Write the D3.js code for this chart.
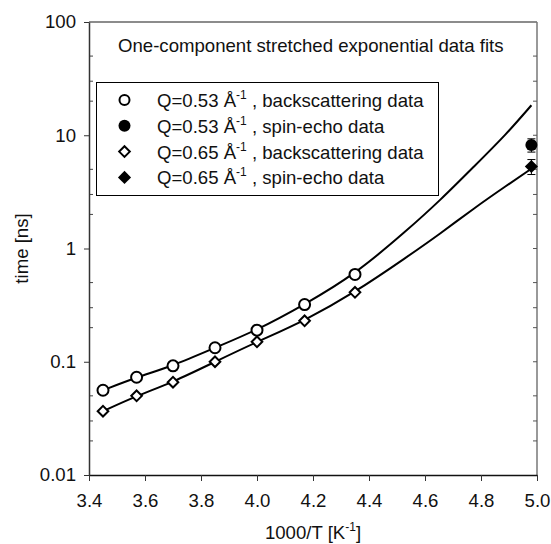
<!doctype html>
<html lang="en">
<head>
<meta charset="utf-8">
<script src="https://d3js.org/d3.v7.min.js"></script>
<style>
  body { margin: 0; background: #fff; }
  text { font-family: "Liberation Sans", Arial, sans-serif; fill: #111; }
</style>
</head>
<body>
<div id="chart"></div>
<script>
// backscattering data (open symbols)
var xBack = [3.45, 3.57, 3.70, 3.85, 4.00, 4.17, 4.35];
var tauQ53 = [0.056, 0.073, 0.092, 0.133, 0.19, 0.32, 0.59];
var tauQ65 = [0.0366, 0.050, 0.066, 0.100, 0.15, 0.23, 0.41];

// spin-echo data (filled symbols)
var xEcho = [4.98];
var echoQ53 = [8.2], echoQ53err = [1.1];
var echoQ65 = [5.3], echoQ65err = [0.8];

// fit curves
var xFit = [3.45, 3.57, 3.70, 3.85, 4.00, 4.17, 4.35, 4.535, 4.654, 4.773, 4.892, 4.98];
var fitQ53 = [0.056, 0.073, 0.092, 0.133, 0.19, 0.32, 0.59, 1.44, 2.66, 5.24, 10.3, 18.4];
var fitQ65 = [0.0366, 0.050, 0.066, 0.100, 0.15, 0.23, 0.41, 0.84, 1.35, 2.25, 3.6, 5.07];

var xTicks = [3.4, 3.6, 3.8, 4.0, 4.2, 4.4, 4.6, 4.8, 5.0];
var yTicks = [0.01, 0.1, 1, 10, 100];
var yTickLabels = ["0.01", "0.1", "1", "10", "100"];
var legendLabels = ["Q=0.53 Å", "Q=0.53 Å", "Q=0.65 Å", "Q=0.65 Å"];
var legendTails = [" , backscattering data", " , spin-echo data", " , backscattering data", " , spin-echo data"];

var width = 551, height = 544;
var margin = { top: 22, right: 14, bottom: 69, left: 89 };
var fs = 18.6;

var svg = d3.select("#chart").append("svg")
    .attr("width", width).attr("height", height);

var x = d3.scaleLinear().domain([3.4, 5.0]).range([margin.left, width - margin.right]);
var y = d3.scaleLog().domain([0.01, 100]).range([height - margin.bottom, margin.top]);

// frame: top and right grey, left and bottom dark
svg.append("line").attr("x1", x(3.4)).attr("x2", x(5.0)).attr("y1", y(100)).attr("y2", y(100))
    .attr("stroke", "#666").attr("stroke-width", 1.5);
svg.append("line").attr("x1", x(5.0)).attr("x2", x(5.0)).attr("y1", y(100)).attr("y2", y(0.01))
    .attr("stroke", "#777").attr("stroke-width", 1.5);

// minor ticks inside (2,3,5 per decade) on both sides
var minor = [];
[0.01, 0.1, 1, 10].forEach(function (d) { [2, 3, 5].forEach(function (m) { minor.push(d * m); }); });
svg.selectAll(".minL").data(minor).join("line")
    .attr("x1", x(3.4)).attr("x2", x(3.4) + 4)
    .attr("y1", d => y(d)).attr("y2", d => y(d))
    .attr("stroke", "#444");
svg.selectAll(".minR").data(minor.concat(yTicks.slice(1, 4))).join("line")
    .attr("x1", x(5.0)).attr("x2", x(5.0) - 4)
    .attr("y1", d => y(d)).attr("y2", d => y(d))
    .attr("stroke", "#555");

var xAxis = svg.append("g")
    .attr("transform", "translate(0," + y(0.01) + ")")
    .call(d3.axisBottom(x).tickValues(xTicks).tickFormat(d3.format(".1f")).tickSize(6).tickSizeOuter(0));
xAxis.select(".domain").attr("stroke", "#111").attr("stroke-width", 1.5);
xAxis.selectAll(".tick line").attr("stroke", "#333");
xAxis.selectAll(".tick text").attr("font-size", fs).attr("dy", 0).attr("y", 32)
    .attr("font-family", "Liberation Sans, Arial, sans-serif").attr("fill", "#111");

var yAxis = svg.append("g")
    .attr("transform", "translate(" + x(3.4) + ",0)")
    .call(d3.axisLeft(y).tickValues(yTicks).tickFormat((d, i) => yTickLabels[i]).tickSize(5).tickSizeOuter(0));
yAxis.select(".domain").attr("stroke", "#333").attr("stroke-width", 1.5);
yAxis.selectAll(".tick line").attr("stroke", "#333");
yAxis.selectAll(".tick text").attr("font-size", fs).attr("x", -13)
    .attr("font-family", "Liberation Sans, Arial, sans-serif").attr("fill", "#111");

// axis titles
var xt = svg.append("text").attr("x", (x(3.4) + x(5.0)) / 2).attr("y", 539)
    .attr("text-anchor", "middle").attr("font-size", fs);
xt.append("tspan").text("1000/T [K");
xt.append("tspan").attr("font-size", 12).attr("dy", -8).text("-1");
xt.append("tspan").attr("dy", 8).text("]");

svg.append("text")
    .attr("transform", "translate(28," + (y(0.01) + y(100)) / 2 + ") rotate(-90)")
    .attr("text-anchor", "middle").attr("font-size", fs).text("time [ns]");

// fit curves
var line = d3.line().x(d => x(d[0])).y(d => y(d[1])).curve(d3.curveBasis);
[fitQ53, fitQ65].forEach(function (s) {
    svg.append("path").datum(xFit.map((d, i) => [d, s[i]]))
        .attr("fill", "none").attr("stroke", "#000").attr("stroke-width", 2)
        .attr("d", line);
});

var diamond = d3.symbol().type(d3.symbolDiamond2).size(72);

// backscattering points
svg.selectAll(".c53").data(xBack).join("circle")
    .attr("cx", d => x(d)).attr("cy", (d, i) => y(tauQ53[i])).attr("r", 5.5)
    .attr("fill", "#fff").attr("stroke", "#000").attr("stroke-width", 2);
svg.selectAll(".d65").data(xBack).join("path")
    .attr("transform", (d, i) => "translate(" + x(d) + "," + y(tauQ65[i]) + ")")
    .attr("d", diamond).attr("fill", "#fff").attr("stroke", "#000").attr("stroke-width", 2);

// spin-echo points with error bars
function errBar(xs, ys, es) {
    xs.forEach(function (d, i) {
        svg.append("line").attr("x1", x(d)).attr("x2", x(d))
            .attr("y1", y(ys[i] - es[i])).attr("y2", y(ys[i] + es[i])).attr("stroke", "#000");
        [ys[i] - es[i], ys[i] + es[i]].forEach(function (v) {
            svg.append("line").attr("x1", x(d) - 4).attr("x2", x(d) + 4)
                .attr("y1", y(v)).attr("y2", y(v)).attr("stroke", "#000");
        });
    });
}
errBar(xEcho, echoQ53, echoQ53err);
errBar(xEcho, echoQ65, echoQ65err);
svg.selectAll(".e53").data(xEcho).join("circle")
    .attr("cx", d => x(d)).attr("cy", (d, i) => y(echoQ53[i])).attr("r", 6).attr("fill", "#000");
svg.selectAll(".e65").data(xEcho).join("path")
    .attr("transform", (d, i) => "translate(" + x(d) + "," + y(echoQ65[i]) + ")")
    .attr("d", d3.symbol().type(d3.symbolDiamond2).size(110)).attr("fill", "#000");

// title and legend
svg.append("text").attr("x", 118).attr("y", 52).attr("font-size", fs)
    .text("One-component stretched exponential data fits");

var lg = svg.append("g");
lg.append("rect").attr("x", 96.5).attr("y", 82.5).attr("width", 342).attr("height", 113)
    .attr("fill", "#fff").attr("stroke", "#000");
var rowY = d3.range(4).map(i => 100 + i * 25.8);
lg.append("circle").attr("cx", 124.5).attr("cy", rowY[0]).attr("r", 5)
    .attr("fill", "#fff").attr("stroke", "#000").attr("stroke-width", 2);
lg.append("circle").attr("cx", 124.5).attr("cy", rowY[1]).attr("r", 6).attr("fill", "#000");
lg.append("path").attr("transform", "translate(124.5," + rowY[2] + ")").attr("d", diamond)
    .attr("fill", "#fff").attr("stroke", "#000").attr("stroke-width", 2);
lg.append("path").attr("transform", "translate(124.5," + rowY[3] + ")")
    .attr("d", d3.symbol().type(d3.symbolDiamond2).size(110)).attr("fill", "#000");
legendLabels.forEach(function (lab, i) {
    var t = lg.append("text").attr("x", 157).attr("y", rowY[i] + 7).attr("font-size", fs);
    t.append("tspan").text(lab);
    t.append("tspan").attr("font-size", 12).attr("dy", -8).text("-1");
    t.append("tspan").attr("dy", 8).text(legendTails[i]);
});
</script>
</body>
</html>
